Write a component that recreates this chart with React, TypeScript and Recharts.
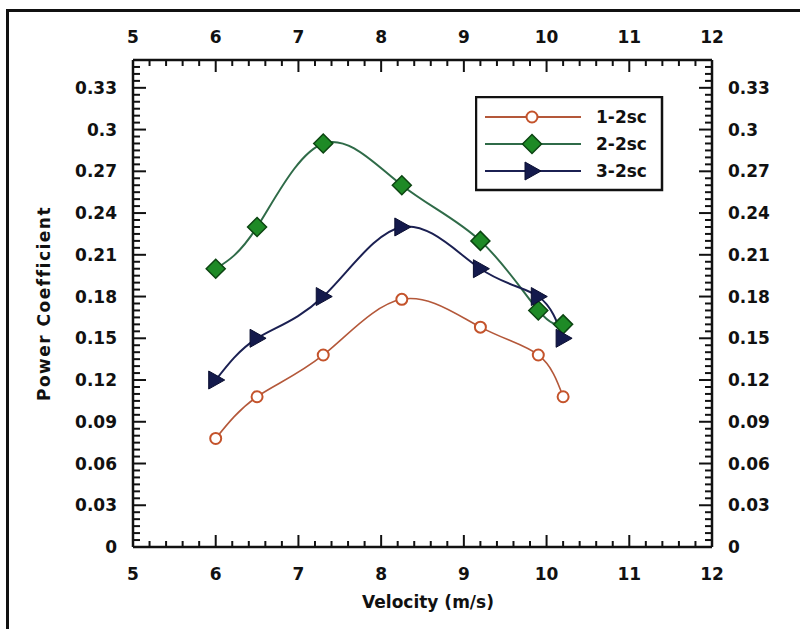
import { LineChart, Line, XAxis, YAxis, Legend, Label } from 'recharts';

const VELOCITY = [6.0, 6.5, 7.3, 8.25, 9.2, 9.9, 10.2];
const CP_1_2SC = [0.078, 0.108, 0.138, 0.178, 0.158, 0.138, 0.108];
const CP_2_2SC = [0.2, 0.23, 0.29, 0.26, 0.22, 0.17, 0.16];
const CP_3_2SC = [0.12, 0.15, 0.18, 0.23, 0.2, 0.18, 0.15];

const X_TICKS = [5, 6, 7, 8, 9, 10, 11, 12];
const Y_TICKS = [0, 0.03, 0.06, 0.09, 0.12, 0.15, 0.18, 0.21, 0.24, 0.27, 0.3, 0.33];

const SERIES = [
    { key: 'a', name: '1-2sc', line: '#b4583a' },
    { key: 'b', name: '2-2sc', line: '#2f6b48' },
    { key: 'c', name: '3-2sc', line: '#1b2052' },
];

const data = VELOCITY.map((v, i) => ({ v, a: CP_1_2SC[i], b: CP_2_2SC[i], c: CP_3_2SC[i] }));

// minor ticks every 0.2 on x, every 0.005 on y
const xAll: number[] = [];
for (let i = 0; i <= 35; i++) xAll.push(Math.round((5 + i * 0.2) * 10) / 10);
const yAll: number[] = [];
for (let i = 0; i <= 69; i++) yAll.push(Math.round(i * 5) / 1000);

const isMajorX = (v: number) => X_TICKS.includes(v);
const isMajorY = (v: number) => Y_TICKS.some((t) => Math.abs(t - v) < 1e-6);
const fmtY = (v: number) => String(Math.round(v * 100) / 100);

const FONT = '"DejaVu Sans", Arial, sans-serif';
const txt = { fontFamily: FONT, fontWeight: 700, fontSize: 17, fill: '#111' } as const;

const Circle = ({ cx, cy }: any) => (
    <circle cx={cx} cy={cy} r={5.5} fill="#fff" stroke="#c4532b" strokeWidth={2} />
);
const Diamond = ({ cx, cy }: any) => (
    <polygon
        points={`${cx},${cy - 9.5} ${cx + 9.5},${cy} ${cx},${cy + 9.5} ${cx - 9.5},${cy}`}
        fill="#1e8a26"
        stroke="#0c4512"
        strokeWidth={1.5}
    />
);
const Triangle = ({ cx, cy }: any) => (
    <polygon points={`${cx - 7},${cy - 9} ${cx + 9},${cy} ${cx - 7},${cy + 9}`} fill="#141a4c" stroke="#0a0e30" strokeWidth={1} />
);
const MARKERS = [Circle, Diamond, Triangle];

function BottomTick({ x, y, payload }: any) {
    const major = isMajorX(payload.value);
    return (
        <g>
            <line x1={x} x2={x} y1={y} y2={y - (major ? 12 : 6)} stroke="#111" strokeWidth={2} />
            {major && (
                <text x={x} y={y + 33} textAnchor="middle" {...txt}>
                    {payload.value}
                </text>
            )}
        </g>
    );
}

function TopTick({ x, y, payload }: any) {
    const major = isMajorX(payload.value);
    return (
        <g>
            <line x1={x} x2={x} y1={y} y2={y + (major ? 12 : 6)} stroke="#111" strokeWidth={2} />
            {major && (
                <text x={x} y={y - 17} textAnchor="middle" {...txt}>
                    {payload.value}
                </text>
            )}
        </g>
    );
}

function LeftTick({ x, y, payload }: any) {
    const major = isMajorY(payload.value);
    return (
        <g>
            <line x1={x} x2={x + (major ? 13 : 7)} y1={y} y2={y} stroke="#111" strokeWidth={2} />
            {major && (
                <text x={x - 16} y={y} dy="0.36em" textAnchor="end" {...txt}>
                    {fmtY(payload.value)}
                </text>
            )}
        </g>
    );
}

function RightTick({ x, y, payload }: any) {
    const major = isMajorY(payload.value);
    return (
        <g>
            <line x1={x} x2={x - (major ? 13 : 7)} y1={y} y2={y} stroke="#111" strokeWidth={2} />
            {major && (
                <text x={x + 16} y={y} dy="0.36em" textAnchor="start" {...txt}>
                    {fmtY(payload.value)}
                </text>
            )}
        </g>
    );
}

function LegendBox() {
    return (
        <svg width={190} height={97}>
            <rect x={1} y={1} width={186} height={93} fill="#fff" stroke="#111" strokeWidth={2.5} />
            {SERIES.map((s, i) => {
                const M = MARKERS[i];
                const cy = 21 + i * 27;
                return (
                    <g key={s.key}>
                        <line x1={10} x2={106} y1={cy} y2={cy} stroke={s.line} strokeWidth={2} />
                        <M cx={57} cy={cy} />
                        <text x={121} y={cy} dy="0.36em" {...txt}>
                            {s.name}
                        </text>
                    </g>
                );
            })}
        </svg>
    );
}

export default function App() {
    return (
        <div style={{ position: 'absolute', left: 0, top: 0, width: 800, height: 629, background: '#fff' }}>
            <div
                style={{
                    position: 'absolute',
                    left: 6,
                    top: 9,
                    width: 794,
                    height: 620,
                    borderTop: '3px solid #111',
                    borderLeft: '3px solid #111',
                    boxSizing: 'border-box',
                }}
            />
            <div style={{ position: 'absolute', left: 0, top: 0 }}>
                <LineChart width={800} height={629} data={data} margin={{ top: 30, right: 28, bottom: 52, left: 73 }}>
                    <XAxis
                        dataKey="v"
                        type="number"
                        domain={[5, 12]}
                        ticks={xAll}
                        interval={0}
                        allowDataOverflow
                        height={30}
                        tickSize={0}
                        tickMargin={0}
                        tickLine={false}
                        tick={<BottomTick />}
                        axisLine={{ stroke: '#111', strokeWidth: 2.5 }}
                    >
                        <Label
                            content={(p: any) => (
                                <text x={428} y={p.viewBox.y + 61} textAnchor="middle" {...txt}>
                                    Velocity (m/s)
                                </text>
                            )}
                        />
                    </XAxis>
                    <XAxis
                        xAxisId="top"
                        orientation="top"
                        dataKey="v"
                        type="number"
                        domain={[5, 12]}
                        ticks={xAll}
                        interval={0}
                        allowDataOverflow
                        height={30}
                        tickSize={0}
                        tickMargin={0}
                        tickLine={false}
                        tick={<TopTick />}
                        axisLine={{ stroke: '#111', strokeWidth: 2.5 }}
                    />
                    <YAxis
                        type="number"
                        domain={[0, 0.35]}
                        ticks={yAll}
                        interval={0}
                        allowDataOverflow
                        width={60}
                        tickSize={0}
                        tickMargin={0}
                        tickLine={false}
                        tick={<LeftTick />}
                        axisLine={{ stroke: '#111', strokeWidth: 2.5 }}
                    >
                        <Label
                            content={(p: any) => {
                                const cy = p.viewBox.y + p.viewBox.height / 2;
                                return (
                                    <text
                                        x={50}
                                        y={cy}
                                        transform={`rotate(-90 50 ${cy})`}
                                        textAnchor="middle"
                                        {...txt}
                                        letterSpacing={1.5}
                                    >
                                        Power Coefficient
                                    </text>
                                );
                            }}
                        />
                    </YAxis>
                    <YAxis
                        yAxisId="right"
                        orientation="right"
                        type="number"
                        domain={[0, 0.35]}
                        ticks={yAll}
                        interval={0}
                        allowDataOverflow
                        width={60}
                        tickSize={0}
                        tickMargin={0}
                        tickLine={false}
                        tick={<RightTick />}
                        axisLine={{ stroke: '#111', strokeWidth: 2.5 }}
                    />
                    <Legend
                        layout="horizontal"
                        verticalAlign="middle"
                        align="center"
                        content={() => <LegendBox />}
                        wrapperStyle={{ left: 475, top: 96, width: 190, height: 97 }}
                    />
                    {SERIES.map((s, i) => {
                        const M = MARKERS[i];
                        return (
                            <Line
                                key={s.key}
                                dataKey={s.key}
                                name={s.name}
                                type="natural"
                                stroke={s.line}
                                strokeWidth={i === 0 ? 1.6 : 2}
                                dot={(p: any) => <M key={`${s.key}-${p.index}`} cx={p.cx} cy={p.cy} />}
                                isAnimationActive={false}
                            />
                        );
                    })}
                </LineChart>
            </div>
        </div>
    );
}
